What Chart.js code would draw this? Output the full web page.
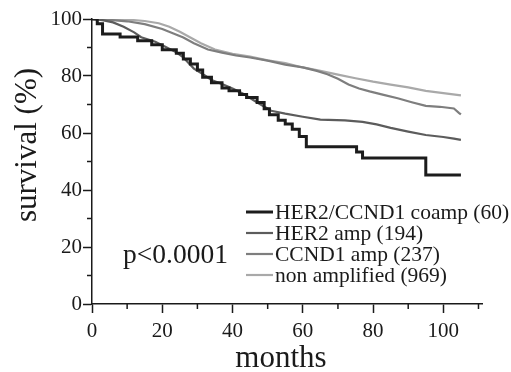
<!DOCTYPE html>
<html>
<head>
<meta charset="utf-8">
<script src="https://cdn.jsdelivr.net/npm/chart.js@4.4.1/dist/chart.umd.min.js"></script>
<style>
  html, body { margin: 0; padding: 0; background: #fff; }
  #wrap { width: 511px; height: 372px; position: relative; }
</style>
</head>
<body>
<div id="wrap"><canvas id="km"></canvas></div>
<script>
// Kaplan-Meier overall survival by amplification status
const seriesLabels = [
  'HER2/CCND1 coamp (60)',
  'HER2 amp (194)',
  'CCND1 amp (237)',
  'non amplified (969)'
];

const coampMonths   = [0, 1.5, 3, 8, 13, 17, 20, 24, 26, 28, 30, 31.5, 34, 37, 39, 42, 44, 47, 49, 50.5, 53, 55, 57, 59, 61, 75.3, 77, 95, 105];
const coampSurvival = [100, 98.3, 94.7, 93.7, 92.4, 91, 89.2, 88, 86, 84.2, 82.1, 79.6, 77.6, 75.8, 74.8, 73.5, 72.5, 70.7, 68.5, 66.4, 64.5, 63.2, 61.3, 58.8, 55.2, 53.3, 51.2, 45.3, 45.3];

const her2Months   = [0, 3, 6, 9, 12, 14, 18, 21, 24, 26, 29, 32, 34, 37, 40, 43, 46, 48, 51, 55, 60, 65, 72, 77, 81, 85, 90, 95, 100, 103, 105];
const her2Survival = [100, 99.6, 98.8, 97.3, 95.3, 93.6, 92, 90.2, 88.3, 86.5, 82.6, 80.3, 78.6, 77.2, 75.6, 73.8, 71.5, 70, 67.8, 66.8, 65.7, 64.7, 64.4, 63.9, 63, 61.8, 60.5, 59.3, 58.6, 58, 57.6];

const ccnd1Months   = [0, 5, 10, 15, 20, 23, 26, 29, 33, 37, 41, 45, 50, 55, 60, 64, 67, 70, 73, 76, 79, 83, 87, 91, 95, 99, 103, 104.5, 105];
const ccnd1Survival = [100, 99.7, 99.2, 98.2, 96.5, 95, 93.5, 91.5, 89.3, 88.2, 87.2, 86.5, 85.4, 84, 83, 81.8, 80.6, 79, 77, 75.6, 74.6, 73.4, 72.2, 70.8, 69.5, 69.2, 68.6, 67, 66.5];

const nonAmpMonths   = [0, 5, 10, 15, 19, 22, 25, 28, 31, 35, 40, 45, 50, 55, 60, 65, 70, 75, 80, 85, 90, 95, 100, 105];
const nonAmpSurvival = [100, 100, 99.8, 99.3, 98.5, 97.3, 95.5, 93.5, 91.5, 89.3, 87.8, 86.8, 85.5, 84.5, 83, 81.8, 80.5, 79.2, 78, 77, 76, 74.8, 74, 73.2];

const xTickLabels = [0, 20, 40, 60, 80, 100];
const yTickLabels = [0, 20, 40, 60, 80, 100];

const yTitle = 'survival (%)';
const xTitle = 'months';
const pValueText = 'p<0.0001';

const SERIF = '"Liberation Serif", "Times New Roman", serif';
const INK = '#1a1a1a';

function toPoints(xs, ys) {
  return xs.map((x, i) => ({ x: x, y: ys[i] }));
}

const datasets = [
  { label: seriesLabels[0], data: toPoints(coampMonths, coampSurvival),  borderColor: '#1c1c1c', borderWidth: 3,   stepped: true },
  { label: seriesLabels[1], data: toPoints(her2Months, her2Survival),    borderColor: '#5c5c5c', borderWidth: 2.2, stepped: false },
  { label: seriesLabels[2], data: toPoints(ccnd1Months, ccnd1Survival),  borderColor: '#7e7e7e', borderWidth: 2.2, stepped: false },
  { label: seriesLabels[3], data: toPoints(nonAmpMonths, nonAmpSurvival), borderColor: '#a9a9a9', borderWidth: 2.2, stepped: false }
].map(d => Object.assign(d, { fill: false, pointRadius: 0, tension: 0 }));

// short minor tick marks at the odd multiples of 10
const minorTicks = {
  id: 'minorTicks',
  afterDraw(chart) {
    const ctx = chart.ctx;
    const xs = chart.scales.x, ys = chart.scales.y;
    ctx.save();
    ctx.strokeStyle = INK;
    ctx.lineWidth = 1.5;
    xs.ticks.forEach(t => {
      if (t.value % 20 !== 0) {
        const px = xs.getPixelForValue(t.value);
        ctx.beginPath();
        ctx.moveTo(px, ys.bottom);
        ctx.lineTo(px, ys.bottom + 5);
        ctx.stroke();
      }
    });
    ys.ticks.forEach(t => {
      if (t.value % 20 !== 0) {
        const py = ys.getPixelForValue(t.value);
        ctx.beginPath();
        ctx.moveTo(xs.left, py);
        ctx.lineTo(xs.left - 5, py);
        ctx.stroke();
      }
    });
    ctx.restore();
  }
};

// axis titles, p-value and the in-plot key
const annotations = {
  id: 'annotations',
  afterDraw(chart) {
    const ctx = chart.ctx;
    ctx.save();
    ctx.fillStyle = INK;

    // y-axis title
    ctx.save();
    ctx.translate(28, 145);
    ctx.rotate(-Math.PI / 2);
    ctx.font = '31px ' + SERIF;
    ctx.textAlign = 'center';
    ctx.textBaseline = 'middle';
    ctx.fillText(yTitle, 0, 0);
    ctx.restore();

    // x-axis title
    ctx.font = '31px ' + SERIF;
    ctx.textAlign = 'center';
    ctx.textBaseline = 'alphabetic';
    ctx.fillText(xTitle, 281, 367);

    // p-value
    ctx.font = '27.5px ' + SERIF;
    ctx.textAlign = 'left';
    ctx.fillText(pValueText, 123, 263);

    // key
    ctx.font = '21.5px ' + SERIF;
    const rowY = [212, 233, 254, 275];
    chart.data.datasets.forEach((ds, i) => {
      const y = rowY[i];
      ctx.strokeStyle = ds.borderColor;
      ctx.lineWidth = ds.borderWidth;
      ctx.beginPath();
      ctx.moveTo(246, y);
      ctx.lineTo(273, y);
      ctx.stroke();
      ctx.fillStyle = INK;
      ctx.fillText(ds.label, 275, y + 7);
    });
    ctx.restore();
  }
};

new Chart(document.getElementById('km'), {
  type: 'line',
  data: { datasets: datasets },
  plugins: [minorTicks, annotations],
  options: {
    responsive: true,
    maintainAspectRatio: false,
    animation: false,
    events: [],
    layout: { padding: { top: 19, right: 29, bottom: 0, left: 0 } },
    plugins: { legend: { display: false }, tooltip: { enabled: false } },
    scales: {
      x: {
        type: 'linear',
        min: 0,
        max: 111,
        afterFit(scale) { scale.height = 68; },
        border: { display: true, color: INK, width: 1.5 },
        grid: {
          display: true,
          drawOnChartArea: false,
          drawTicks: true,
          tickLength: 9,
          tickWidth: 1.5,
          tickColor: c => (c.tick && xTickLabels.includes(c.tick.value)) ? INK : 'rgba(0,0,0,0)'
        },
        ticks: {
          stepSize: 10,
          includeBounds: false,
          autoSkip: false,
          maxRotation: 0,
          padding: 6,
          color: INK,
          font: { family: SERIF, size: 21 },
          callback: v => xTickLabels.includes(v) ? String(v) : ''
        }
      },
      y: {
        type: 'linear',
        min: 0,
        max: 100,
        afterFit(scale) { scale.width = 92; },
        border: { display: true, color: INK, width: 1.5 },
        grid: {
          display: true,
          drawOnChartArea: false,
          drawTicks: true,
          tickLength: 9,
          tickWidth: 1.5,
          tickColor: c => (c.tick && yTickLabels.includes(c.tick.value)) ? INK : 'rgba(0,0,0,0)'
        },
        ticks: {
          stepSize: 10,
          autoSkip: false,
          padding: 1,
          color: INK,
          font: { family: SERIF, size: 21 },
          callback: v => yTickLabels.includes(v) ? String(v) : ''
        }
      }
    }
  }
});
</script>
</body>
</html>
